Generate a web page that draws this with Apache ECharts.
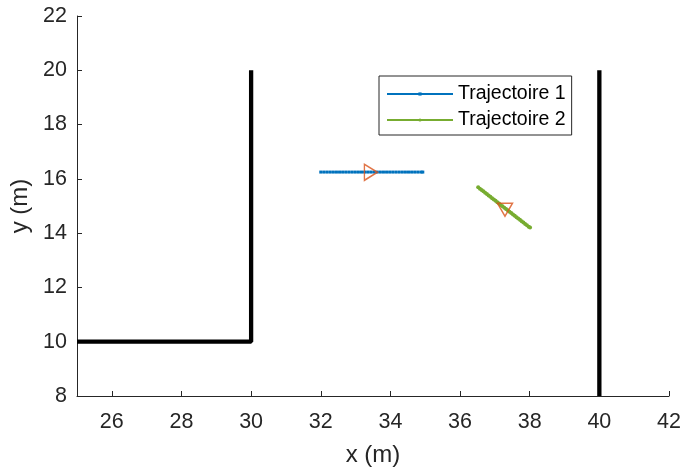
<!DOCTYPE html>
<html>
<head>
<meta charset="utf-8">
<script src="https://cdn.jsdelivr.net/npm/echarts@6/dist/echarts.min.js"></script>
<style>
html,body{margin:0;padding:0;background:#fff;}
#chart{width:681px;height:468px;}
</style>
</head>
<body>
<div id="chart"></div>
<script>
// ---- data ----
const xTicks = [26, 28, 30, 32, 34, 36, 38, 40, 42];
const yTicks = [8, 10, 12, 14, 16, 18, 20, 22];

const traj1X = [32.00,32.09,32.18,32.27,32.36,32.45,32.54,32.63,32.72,32.81,32.90,32.99,33.08,33.17,33.26,33.35,33.44,33.53,33.62,33.71,33.80,33.89,33.98,34.07,34.16,34.25,34.34,34.43,34.52,34.61,34.70,34.79,34.88,34.93];
const traj1Y = [16.25,16.25,16.25,16.25,16.25,16.25,16.25,16.25,16.25,16.25,16.25,16.25,16.25,16.25,16.25,16.25,16.25,16.25,16.25,16.25,16.25,16.25,16.25,16.25,16.25,16.25,16.25,16.25,16.25,16.25,16.25,16.25,16.25,16.25];

const traj2X = [36.52,36.57,36.62,36.67,36.72,36.77,36.82,36.87,36.92,36.97,37.02,37.07,37.12,37.17,37.22,37.27,37.32,37.37,37.42,37.47,37.52,37.57,37.62,37.67,37.72,37.77,37.82,37.87,37.92,37.97,38.01];
const traj2Y = [15.69,15.64,15.59,15.54,15.49,15.44,15.39,15.34,15.29,15.24,15.19,15.14,15.09,15.04,14.99,14.94,14.89,14.84,14.79,14.74,14.69,14.64,14.59,14.54,14.49,14.44,14.39,14.34,14.29,14.24,14.21];

const wall1X = [25, 30, 30];
const wall1Y = [10, 10, 20];
const wall2X = [40, 40];
const wall2Y = [8, 20];

const marker1 = [33.44, 16.24];
const marker2 = [37.29, 14.86];

const names = ['Trajectoire 1', 'Trajectoire 2'];

// ---- build ----
const zip = (xs, ys) => xs.map((x, i) => [x, ys[i]]);
const font = 'Liberation Sans, Arial, Helvetica, sans-serif';
const axisColor = '#262626';

const chart = echarts.init(document.getElementById('chart'));
chart.setOption({
  animation: false,
  backgroundColor: '#fff',
  grid: { left: 77, right: 12, top: 16, bottom: 72, containLabel: false, outerBoundsMode: 'none' },
  legend: {
    data: names,
    left: 379, top: 76,
    orient: 'vertical',
    itemWidth: 66, itemHeight: 4, itemGap: 6,
    padding: [8, 6, 5, 7],
    borderColor: axisColor, borderWidth: 1,
    backgroundColor: '#fff',
    textStyle: { fontFamily: font, fontSize: 19.5, color: '#000' }
  },
  xAxis: {
    type: 'value', min: 25, max: 42,
    name: 'x (m)', nameLocation: 'middle', nameGap: 47,
    nameTextStyle: { fontFamily: font, fontSize: 24, color: axisColor },
    axisLine: { show: true, onZero: false, lineStyle: { color: axisColor, width: 1 } },
    axisTick: { show: true, inside: true, length: 5, customValues: xTicks, lineStyle: { color: axisColor } },
    axisLabel: { customValues: xTicks, margin: 15, fontFamily: font, fontSize: 21.5, color: axisColor },
    splitLine: { show: false }
  },
  yAxis: {
    type: 'value', min: 8, max: 22,
    name: 'y (m)', nameLocation: 'middle', nameGap: 40, nameRotate: 90,
    nameTextStyle: { fontFamily: font, fontSize: 24, color: axisColor },
    axisLine: { show: true, onZero: false, lineStyle: { color: axisColor, width: 1 } },
    axisTick: { show: true, inside: true, length: 5, customValues: yTicks, lineStyle: { color: axisColor } },
    axisLabel: { customValues: yTicks, margin: 10, fontFamily: font, fontSize: 21.5, color: axisColor },
    splitLine: { show: false }
  },
  series: [
    { name: 'wall1', type: 'line', data: zip(wall1X, wall1Y), symbol: 'none',
      lineStyle: { color: '#000', width: 4.3 }, z: 3 },
    { name: 'wall2', type: 'line', data: zip(wall2X, wall2Y), symbol: 'none',
      lineStyle: { color: '#000', width: 4.3 }, z: 3 },
    { name: names[0], type: 'line', data: zip(traj1X, traj1Y),
      symbol: 'rect', symbolSize: 3, showAllSymbol: true,
      itemStyle: { color: '#0072BD' }, lineStyle: { color: '#0072BD', width: 1 }, z: 4 },
    { name: names[1], type: 'line', data: zip(traj2X, traj2Y),
      symbol: 'circle', symbolSize: 4, showAllSymbol: true,
      itemStyle: { color: '#77AC30' }, lineStyle: { color: '#77AC30', width: 1 }, z: 4 },
    { name: 'm1', type: 'scatter', data: [marker1], symbol: 'triangle',
      symbolSize: [16, 13], symbolRotate: -90,
      itemStyle: { color: 'rgba(0,0,0,0)', borderColor: '#D95319', borderWidth: 1.5 }, z: 5 },
    { name: 'm2', type: 'scatter', data: [marker2], symbol: 'triangle',
      symbolSize: [15, 13], symbolRotate: 180,
      itemStyle: { color: 'rgba(0,0,0,0)', borderColor: '#D95319', borderWidth: 1.5 }, z: 5 }
  ]
});
</script>
</body>
</html>
